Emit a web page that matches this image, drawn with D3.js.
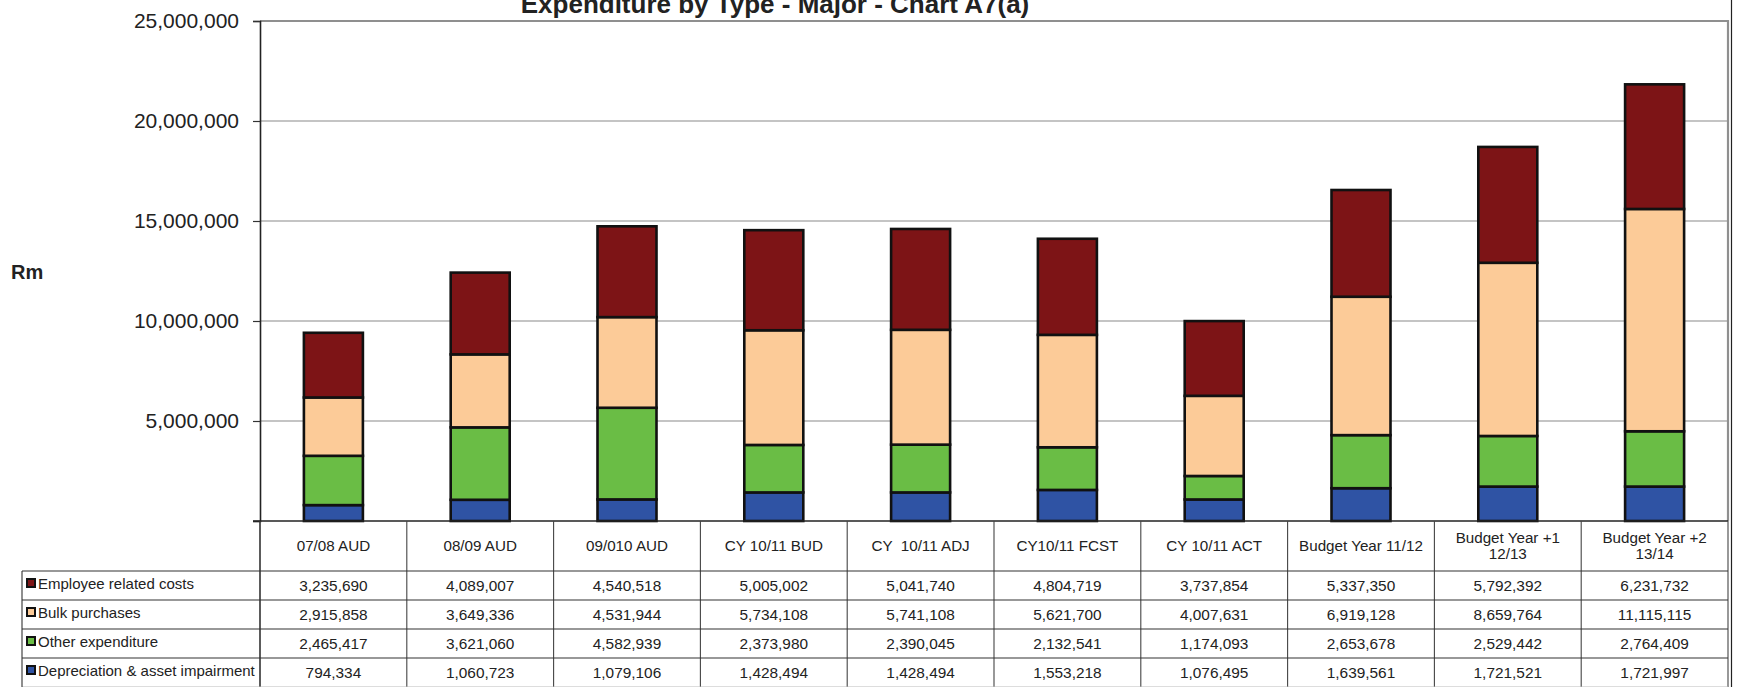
<!DOCTYPE html>
<html>
<head>
<meta charset="utf-8">
<script src="https://cdn.jsdelivr.net/npm/d3@7"></script>
<style>
  html, body { margin: 0; padding: 0; background: #fff; }
  svg { display: block; font-family: "Liberation Sans", Arial, sans-serif; }
</style>
</head>
<body>
<svg id="chart" width="1743" height="687"></svg>
<script>
// Category labels (header row of the data table); "\n" splits into two lines
const categories = [
  "07/08 AUD", "08/09 AUD", "09/010 AUD", "CY 10/11 BUD", "CY  10/11 ADJ",
  "CY10/11 FCST", "CY 10/11 ACT", "Budget Year 11/12", "Budget Year +1\n12/13", "Budget Year +2\n13/14"
];

// Series values (R thousand), listed top row of the table first
const employeeRelatedCosts = [3235690, 4089007, 4540518, 5005002, 5041740, 4804719, 3737854, 5337350, 5792392, 6231732];
const bulkPurchases        = [2915858, 3649336, 4531944, 5734108, 5741108, 5621700, 4007631, 6919128, 8659764, 11115115];
const otherExpenditure     = [2465417, 3621060, 4582939, 2373980, 2390045, 2132541, 1174093, 2653678, 2529442, 2764409];
const depreciation         = [794334, 1060723, 1079106, 1428494, 1428494, 1553218, 1076495, 1639561, 1721521, 1721997];

const seriesNames = ["Employee related costs", "Bulk purchases", "Other expenditure", "Depreciation & asset impairment"];
const yTicks = [0, 5000000, 10000000, 15000000, 20000000, 25000000];

// Series in table order; stacked bottom-up in reverse order
const series = [
  { name: seriesNames[0], values: employeeRelatedCosts, color: "#7d1416" },
  { name: seriesNames[1], values: bulkPurchases,        color: "#fccb98" },
  { name: seriesNames[2], values: otherExpenditure,     color: "#6abd45" },
  { name: seriesNames[3], values: depreciation,         color: "#2f53a4" }
];

const svg = d3.select("#chart");
const W = 1743, H = 687;
const plot = { left: 260, right: 1728, top: 21, bottom: 521 };
const rowTop = 571, rowH = 29, legendLeft = 22;

const x = d3.scaleBand().domain(categories).range([plot.left, plot.right]).padding(0);
const y = d3.scaleLinear().domain([0, 25000000]).range([plot.bottom, plot.top]);
const barW = 59;

// Gridlines
svg.append("g")
  .selectAll("line")
  .data(yTicks.filter(d => d > 0 && d < 25000000))
  .join("line")
  .attr("x1", plot.left).attr("x2", plot.right)
  .attr("y1", d => y(d)).attr("y2", d => y(d))
  .attr("stroke", "#8a8a8a").attr("stroke-width", 1.2);

// Plot frame (top/right grey)
svg.append("path")
  .attr("d", `M${plot.left},${plot.top}H${plot.right}V${plot.bottom}`)
  .attr("fill", "none").attr("stroke", "#8f8f8f").attr("stroke-width", 2.2);

// Outer right edge of chart object
svg.append("line")
  .attr("x1", 1731.5).attr("x2", 1731.5).attr("y1", 0).attr("y2", H)
  .attr("stroke", "#222").attr("stroke-width", 1.2);

// Stacked bars
const stackData = categories.map((c, i) => {
  const o = { cat: c };
  series.forEach(s => { o[s.name] = s.values[i]; });
  return o;
});
const stack = d3.stack().keys(series.map(s => s.name).slice().reverse());
const layers = stack(stackData);
const colorOf = new Map(series.map(s => [s.name, s.color]));

svg.append("g")
  .selectAll("g")
  .data(layers)
  .join("g")
  .attr("fill", d => colorOf.get(d.key))
  .selectAll("rect")
  .data(d => d)
  .join("rect")
  .attr("x", d => x(d.data.cat) + x.bandwidth() / 2 - barW / 2)
  .attr("width", barW)
  .attr("y", d => y(d[1]))
  .attr("height", d => y(d[0]) - y(d[1]))
  .attr("stroke", "#111")
  .attr("stroke-width", 2.6);

// Y axis
const yAxis = d3.axisLeft(y)
  .tickValues(yTicks)
  .tickSize(7)
  .tickPadding(14)
  .tickFormat(d => d === 0 ? "" : d3.format(",")(d));
const gy = svg.append("g").attr("transform", `translate(${plot.left},0)`).call(yAxis);
gy.select(".domain").attr("stroke", "#222").attr("stroke-width", 1.6);
gy.selectAll(".tick line").attr("stroke", "#333").attr("stroke-width", 1.2);
gy.selectAll(".tick text")
  .attr("font-size", 21)
  .attr("fill", "#222")
  .attr("font-family", "'Liberation Sans', Arial, sans-serif");

// Baseline
svg.append("line")
  .attr("x1", plot.left - 7).attr("x2", plot.right)
  .attr("y1", plot.bottom).attr("y2", plot.bottom)
  .attr("stroke", "#222").attr("stroke-width", 1.6);

// Title and axis caption
svg.append("text")
  .attr("x", 775).attr("y", 13)
  .attr("text-anchor", "middle")
  .attr("font-size", 26).attr("font-weight", "bold").attr("fill", "#222")
  .text("Expenditure by Type - Major - Chart A7(a)");

svg.append("text")
  .attr("x", 11).attr("y", 279)
  .attr("font-size", 20).attr("font-weight", "bold").attr("fill", "#222")
  .text("Rm");

// ---- Data table ----
const tbl = svg.append("g");
const tableBottom = rowTop + rowH * series.length;

// Column separators
const colEdges = categories.map(c => x(c)).concat([plot.right]);
tbl.selectAll("line.col")
  .data(colEdges)
  .join("line")
  .attr("class", "col")
  .attr("x1", d => d).attr("x2", d => d)
  .attr("y1", plot.bottom).attr("y2", tableBottom)
  .attr("stroke", (d, i) => i === 0 ? "#333" : "#444")
  .attr("stroke-width", (d, i) => i === 0 ? 1.6 : 1.1);

// Row separators
tbl.selectAll("line.row")
  .data(d3.range(series.length + 1))
  .join("line")
  .attr("class", "row")
  .attr("x1", legendLeft).attr("x2", plot.right)
  .attr("y1", i => rowTop + i * rowH).attr("y2", i => rowTop + i * rowH)
  .attr("stroke", i => i === series.length ? "#bbb" : "#333")
  .attr("stroke-width", 1.1);

// Legend column left border
tbl.append("line")
  .attr("x1", legendLeft).attr("x2", legendLeft)
  .attr("y1", rowTop).attr("y2", tableBottom)
  .attr("stroke", "#333").attr("stroke-width", 1.1);

// Header labels
const header = tbl.selectAll("text.hdr")
  .data(categories)
  .join("text")
  .attr("class", "hdr")
  .attr("text-anchor", "middle")
  .attr("font-size", 15.2)
  .attr("fill", "#222")
  .style("white-space", "pre")
  .attr("transform", d => `translate(${x(d) + x.bandwidth() / 2},0)`);
header.each(function(d) {
  const lines = d.split("\n");
  const t = d3.select(this);
  const lh = 16;
  const y0 = (plot.bottom + rowTop) / 2 + 5 - (lines.length - 1) * lh / 2;
  lines.forEach((ln, k) => {
    t.append("tspan").attr("x", 0).attr("y", y0 + k * lh).text(ln);
  });
});

// Legend rows with keys
const rows = tbl.selectAll("g.srow")
  .data(series)
  .join("g")
  .attr("class", "srow")
  .attr("transform", (d, i) => `translate(0,${rowTop + i * rowH})`);

rows.append("rect")
  .attr("x", 27).attr("y", rowH / 2 - 6.5)
  .attr("width", 8).attr("height", 8)
  .attr("fill", d => d.color)
  .attr("stroke", "#111").attr("stroke-width", 2);

rows.append("text")
  .attr("x", 38).attr("y", rowH / 2 + 3.5)
  .attr("font-size", 15).attr("fill", "#222")
  .text(d => d.name);

rows.selectAll("text.val")
  .data(d => d.values.map((v, i) => ({ v, cat: categories[i] })))
  .join("text")
  .attr("class", "val")
  .attr("x", d => x(d.cat) + x.bandwidth() / 2)
  .attr("y", rowH / 2 + 5.5)
  .attr("text-anchor", "middle")
  .attr("font-size", 15.4).attr("fill", "#222")
  .text(d => d3.format(",")(d.v));
</script>
</body>
</html>
